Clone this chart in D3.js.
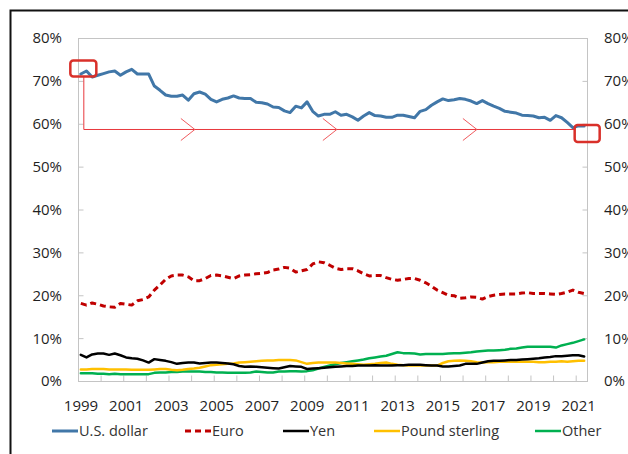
<!DOCTYPE html>
<html>
<head>
<meta charset="utf-8">
<script src="https://cdn.jsdelivr.net/npm/d3@7"></script>
<style>
   body { margin: 0; background: #fff; }
   text { font-family: "Open Sans", "Noto Sans", sans-serif; fill: #1f1f1f; }
</style>
</head>
<body>
<div id="chart"></div>
<script>
var w = 628;
var h = 454;

// quarterly shares, 1999Q1 .. 2021Q2 (per cent)
var startYear = 1999;
var usd = [71.6,72.3,70.9,71.3,71.7,72.1,72.3,71.3,72.1,72.7,71.6,71.6,71.6,68.8,67.8,66.7,66.4,66.4,66.7,65.5,67.0,67.4,66.9,65.7,65.1,65.7,66.0,66.5,66.0,65.9,
   65.9,65.0,64.9,64.6,63.9,63.8,63.0,62.6,64.1,63.7,65.1,62.9,61.8,62.2,62.2,62.8,62.0,62.2,61.6,60.8,61.8,62.6,61.9,61.8,61.5,61.5,62.0,62.0,61.7,61.4,
   62.9,63.3,64.3,65.1,65.8,65.4,65.6,65.9,65.7,65.3,64.7,65.4,64.7,64.1,63.6,62.9,62.7,62.5,62.0,61.9,61.8,61.4,61.5,60.8,61.9,61.4,60.3,59.1,59.5,59.5];
var euro = [18.1,17.7,18.2,17.9,17.5,17.3,17.2,18.1,17.9,17.7,18.7,19.0,19.6,21.2,22.4,23.7,24.5,24.7,24.7,24.3,23.4,23.4,23.9,24.6,24.7,24.5,24.2,23.9,24.5,24.7,
   24.8,25.0,25.1,25.3,25.9,26.1,26.5,26.3,25.4,25.7,26.0,27.3,27.8,27.6,27.0,26.3,26.0,26.2,26.2,25.7,25.0,24.5,24.6,24.6,24.1,23.7,23.5,23.7,23.9,23.9,
   23.5,22.9,22.1,21.2,20.6,20.0,19.9,19.3,19.4,19.6,19.5,19.1,19.7,20.0,20.2,20.3,20.3,20.3,20.5,20.6,20.4,20.4,20.4,20.3,20.2,20.4,20.7,21.2,20.7,20.4];
var yen = [6.1,5.5,6.2,6.4,6.4,6.1,6.4,6.0,5.5,5.3,5.2,4.8,4.3,5.1,4.9,4.7,4.4,4.0,4.2,4.3,4.3,4.1,4.2,4.3,4.3,4.2,4.1,3.9,3.5,3.3,
   3.4,3.3,3.2,3.1,3.0,2.9,3.2,3.5,3.4,3.3,2.8,2.9,3.0,3.1,3.2,3.3,3.4,3.5,3.5,3.6,3.6,3.6,3.7,3.6,3.6,3.6,3.7,3.7,3.8,3.8,
   3.8,3.7,3.6,3.6,3.4,3.4,3.5,3.6,4.0,4.0,4.0,4.3,4.6,4.7,4.7,4.8,4.9,4.9,5.0,5.1,5.2,5.3,5.5,5.6,5.8,5.8,5.9,6.0,6.0,5.7];
var pound = [2.7,2.7,2.8,2.8,2.8,2.7,2.7,2.7,2.7,2.6,2.6,2.6,2.6,2.7,2.8,2.8,2.6,2.5,2.6,2.8,2.9,3.1,3.4,3.7,3.8,3.9,4.0,4.1,4.3,4.4,
   4.5,4.6,4.7,4.8,4.8,4.9,4.9,4.9,4.8,4.4,4.0,4.2,4.3,4.3,4.3,4.3,4.2,4.1,4.0,3.9,3.8,3.9,4.0,4.2,4.3,4.0,3.8,3.7,3.6,3.6,
   3.6,3.6,3.6,3.6,4.2,4.6,4.7,4.8,4.7,4.6,4.4,4.3,4.4,4.4,4.5,4.5,4.5,4.5,4.5,4.5,4.5,4.4,4.4,4.5,4.5,4.6,4.5,4.6,4.7,4.7];
var other = [1.8,1.8,1.8,1.7,1.7,1.6,1.7,1.6,1.6,1.6,1.6,1.6,1.6,1.9,2.0,2.0,2.1,2.1,2.2,2.2,2.2,2.2,2.1,2.1,2.0,2.0,1.9,1.9,1.9,1.9,
   2.0,2.2,2.1,2.0,2.0,2.2,2.2,2.3,2.3,2.2,2.3,2.5,2.9,3.3,3.6,3.9,4.2,4.4,4.6,4.8,5.0,5.3,5.5,5.7,5.9,6.3,6.7,6.5,6.5,6.4,
   6.2,6.3,6.3,6.3,6.3,6.4,6.5,6.5,6.6,6.7,6.9,7.0,7.1,7.1,7.2,7.3,7.5,7.6,7.8,8.0,8.0,8.0,8.0,8.0,7.8,8.3,8.6,8.9,9.3,9.7];

var seriesNames = ["U.S. dollar", "Euro", "Yen", "Pound sterling", "Other"];
var yTicks = [0, 10, 20, 30, 40, 50, 60, 70, 80];
var yearTicks = d3.range(1999, 2022);
var yearLabels = d3.range(1999, 2022, 2);

var styles = [
   {color: "#4177a8", width: 3, dash: null},
   {color: "#c00000", width: 3, dash: "6,4"},
   {color: "#000000", width: 2.5, dash: null},
   {color: "#ffc000", width: 2.5, dash: null},
   {color: "#00b050", width: 2.5, dash: null}
];
var legendX = [52, 185, 283, 374, 535];

var plotLeft = 78, plotRight = 587, plotTop = 38, plotBottom = 381;

var x = d3.scaleLinear().domain([1999, 2021.5]).range([plotLeft, plotRight]);
var y = d3.scaleLinear().domain([0, 80]).range([plotBottom, plotTop]);

var toPoints = function(vals) {
   return vals.map(function(v, i) {
      return {t: startYear + (i + 0.5) * 0.25, v: v};
   });
}

var series = [usd, euro, yen, pound, other].map(toPoints);

var svg = d3.select("#chart")
            .append("svg")
            .attr("width", w)
            .attr("height", h);

// outer frame (runs off the right and bottom edges)
svg.append("rect")
   .attr("x", 10.5).attr("y", 10.5)
   .attr("width", 700).attr("height", 600)
   .attr("fill", "none")
   .attr("stroke", "#111")
   .attr("stroke-width", 2);

// plot frame
svg.append("rect")
   .attr("x", plotLeft + 0.5).attr("y", plotTop + 0.5)
   .attr("width", plotRight - plotLeft).attr("height", plotBottom - plotTop)
   .attr("fill", "none")
   .attr("stroke", "#c4c4c4")
   .attr("stroke-width", 1);

svg.append("g")
   .attr("transform", "translate(" + (plotLeft + 0.5) + ",0)")
   .call(d3.axisRight(y).tickValues(yTicks).tickSize(5).tickFormat(""));
svg.append("g")
   .attr("transform", "translate(" + (plotRight + 0.5) + ",0)")
   .call(d3.axisLeft(y).tickValues(yTicks).tickSize(5).tickFormat(""));
svg.append("g")
   .attr("transform", "translate(0," + (plotBottom + 0.5) + ")")
   .call(d3.axisTop(x).tickValues(yearTicks).tickSize(6).tickFormat(""));

svg.selectAll(".domain").remove();
svg.selectAll(".tick line").attr("stroke", "#c4c4c4");

svg.selectAll(".ylabL")
   .data(yTicks)
   .enter().append("text")
   .attr("x", 62)
   .attr("y", function(d) { return y(d); })
   .attr("dy", "0.36em")
   .attr("text-anchor", "end")
   .style("font-size", "15px")
   .text(function(d) { return d + "%"; });

svg.selectAll(".ylabR")
   .data(yTicks)
   .enter().append("text")
   .attr("x", 604)
   .attr("y", function(d) { return y(d); })
   .attr("dy", "0.36em")
   .style("font-size", "15px")
   .text(function(d) { return d + "%"; });

svg.selectAll(".xlab")
   .data(yearLabels)
   .enter().append("text")
   .attr("x", function(d) { return x(d) + 3; })
   .attr("y", 411)
   .attr("text-anchor", "middle")
   .style("font-size", "15px")
   .text(function(d) { return d; });

var line = d3.line()
   .x(function(d) { return x(d.t); })
   .y(function(d) { return y(d.v); });

// draw back to front so the dollar sits on top like the original
[4, 3, 2, 1, 0].forEach(function(k) {
   svg.append("path")
      .attr("d", line(series[k]))
      .attr("fill", "none")
      .attr("stroke", styles[k].color)
      .attr("stroke-width", styles[k].width)
      .attr("stroke-dasharray", styles[k].dash)
      .attr("stroke-linejoin", "round")
      .attr("stroke-linecap", styles[k].dash ? "butt" : "round");
});

// legend
var legend = svg.selectAll(".legend")
   .data(seriesNames)
   .enter().append("g")
   .attr("transform", function(d, i) { return "translate(" + legendX[i] + ",431)"; });

legend.append("line")
   .attr("x1", 0).attr("x2", 26)
   .attr("stroke", function(d, i) { return styles[i].color; })
   .attr("stroke-width", function(d, i) { return styles[i].width; })
   .attr("stroke-dasharray", function(d, i) { return styles[i].dash; });

legend.append("text")
   .attr("x", 27)
   .attr("dy", "0.35em")
   .style("font-size", "14.5px")
   .style("fill", "#333")
   .text(function(d) { return d; });

// red annotation: first and last dollar points, joined by an arrow
var first = series[0][0];
var last = series[0][series[0].length - 1];
var fx = x(first.t), fy = y(first.v);
var lx = x(last.t), ly = y(last.v);
var arrowY = ly + 3.6;

svg.append("path")
   .attr("d", "M" + (fx + 3) + "," + (fy + 3) + "V" + arrowY + "H" + (lx - 9))
   .attr("fill", "none")
   .attr("stroke", "#e8383d")
   .attr("stroke-width", 1);

[0.226, 0.515, 0.8].forEach(function(f) {
   var ax = (fx + 3) + f * ((lx - 9) - (fx + 3));
   svg.append("path")
      .attr("d", "M" + (ax - 14) + "," + (arrowY - 11) + "L" + ax + "," + arrowY + "L" + (ax - 14) + "," + (arrowY + 11))
      .attr("fill", "none")
      .attr("stroke", "#f05a5e")
      .attr("stroke-width", 1);
});

svg.append("rect")
   .attr("x", fx - 10.5).attr("y", fy - 13.5)
   .attr("width", 26).attr("height", 16)
   .attr("rx", 3)
   .attr("fill", "none")
   .attr("stroke", "#d9302a")
   .attr("stroke-width", 2.5);

svg.append("rect")
   .attr("x", lx - 9.5).attr("y", ly - 1)
   .attr("width", 25).attr("height", 17)
   .attr("rx", 3)
   .attr("fill", "none")
   .attr("stroke", "#d9302a")
   .attr("stroke-width", 2.5);
</script>
</body>
</html>
